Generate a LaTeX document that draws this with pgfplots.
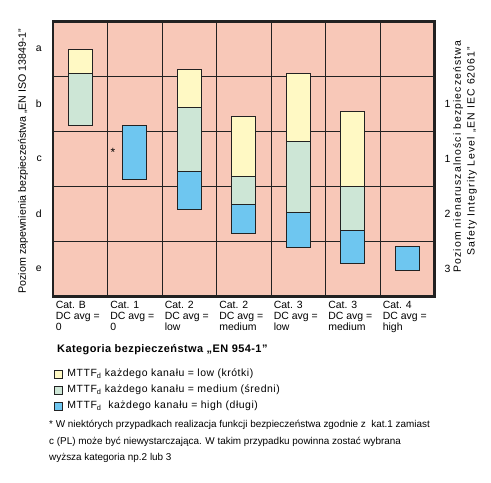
\documentclass[border=0pt]{standalone}
\usepackage{fontspec}
\setmainfont{Liberation Sans}
\newfontfamily\rls[LetterSpace=10.5]{Liberation Sans}
\newfontfamily\lls[LetterSpace=5]{Liberation Sans}
\newfontfamily\tls[LetterSpace=4]{Liberation Sans}
\usepackage{pgfplots}
\usepackage{pgfplotstable}
\pgfplotsset{compat=1.18}
\definecolor{bg}{HTML}{F8C8B8}
\definecolor{cy}{HTML}{FFF9C4}
\definecolor{cg}{HTML}{CDE6D6}
\definecolor{cb}{HTML}{6EC6F0}
\definecolor{gl}{HTML}{222222}

\pgfplotstableread{
x base blue green yellow
0 3.110 0.000 0.945 0.435
1 2.127 0.983 0.000 0.000
2 1.582 0.691 1.163 0.691
3 1.145 0.528 0.509 1.091
4 0.891 0.636 1.291 1.237
5 0.600 0.600 0.800 1.364
6 0.473 0.429 0.000 0.000
}\data

\begin{document}
\begin{tikzpicture}
\useasboundingbox (-53bp,-186.7bp) rectangle (438bp,296.3bp);
\begin{axis}[
  at={(0,0)}, anchor=south west,
  scale only axis, width=381.5bp, height=275bp,
  xmin=-0.5, xmax=6.5, ymin=0, ymax=5,
  ybar stacked, bar width=24bp,
  axis background/.style={fill=bg},
  axis line style={line width=2.6bp, draw=gl},
  xtick={0,...,6},
  xticklabels={{Cat. B\\DC avg =\\0},{Cat. 1\\DC avg =\\0},{Cat. 2\\DC avg =\\low},{Cat. 2\\DC avg =\\medium},{Cat. 3\\DC avg =\\low},{Cat. 3\\DC avg =\\medium},{Cat. 4\\DC avg =\\high}},
  xticklabel style={anchor=north west, align=left, inner sep=0pt, xshift=-24.6bp, yshift=-4.5bp, font=\fontsize{10.5}{11.2}\selectfont},
  ytick={0.5,1.5,2.5,3.5,4.5},
  yticklabels={e,d,c,b,a},
  yticklabel style={inner sep=0pt, xshift=-11bp, font=\fontsize{10.5}{12}\selectfont},
  minor xtick={0.5,1.5,...,5.5},
  minor ytick={1,2,3,4},
  xminorgrids, yminorgrids,
  minor grid style={draw=gl, line width=0.9bp},
  major tick length=0pt, minor tick length=0pt,
  clip=false,
  reverse legend,
  legend cell align=left,
  legend image code/.code={\draw[#1, draw=gl, line width=0.7bp] (0bp,-4bp) rectangle (8bp,4bp); \path (12.5bp,0bp);},
  legend style={draw=none, fill=none, at={(0,0)}, anchor=north west, xshift=1bp, yshift=-72bp, inner sep=0pt, row sep=5bp,
    nodes={inner sep=0pt, text height=8bp, text depth=3bp, font=\lls\fontsize{10.5}{12}\selectfont}},
]
\addplot[draw=none, fill=none, forget plot] table[x=x, y=base] {\data};
\addplot[fill=cb, draw=gl, line width=0.9bp] table[x=x, y=blue] {\data};
\addplot[fill=cg, draw=gl, line width=0.9bp] table[x=x, y=green] {\data};
\addplot[fill=cy, draw=gl, line width=0.9bp] table[x=x, y=yellow] {\data};
\legend{MTTF\textsubscript{d}\ \ każdego kanału = high (długi), MTTF\textsubscript{d} każdego kanału = medium (średni), MTTF\textsubscript{d} każdego kanału = low (krótki)}
\node[font=\fontsize{12}{12}\selectfont] at (axis cs:0.6,2.62) {*};
\node[font=\fontsize{10.5}{12}\selectfont, xshift=13bp] at (axis cs:6.5,3.5) {1};
\node[font=\fontsize{10.5}{12}\selectfont, xshift=13bp] at (axis cs:6.5,2.5) {1};
\node[font=\fontsize{10.5}{12}\selectfont, xshift=13bp] at (axis cs:6.5,1.5) {2};
\node[font=\fontsize{10.5}{12}\selectfont, xshift=13bp] at (axis cs:6.5,0.5) {3};
\end{axis}
\node[rotate=90, font=\fontsize{10.7}{12}\selectfont, inner sep=0pt] at (-30bp,135.3bp) {Poziom zapewnienia bezpieczeństwa „EN ISO 13849-1”};
\node[rotate=90, anchor=east, inner sep=0pt, font=\rls\fontsize{10.5}{14}\selectfont] at (405bp,255.6bp) {Poziom nienaruszalności bezpieczeństwa};
\node[rotate=90, anchor=east, inner sep=0pt, font=\rls\fontsize{10.5}{14}\selectfont] at (419bp,249.6bp) {Safety Integrity Level „EN IEC 62061”};
\node[anchor=west, inner sep=0pt, font=\tls\bfseries\fontsize{11}{12}\selectfont] at (4bp,-53.2bp) {Kategoria bezpieczeństwa „EN 954-1”};
\node[anchor=north west, align=left, inner sep=0pt, font=\fontsize{9.95}{16.5}\selectfont] at (-4bp,-124bp) {* W niektórych przypadkach realizacja funkcji bezpieczeństwa zgodnie z\ \ kat.1 zamiast\\c (PL) może być niewystarczająca. W takim przypadku powinna zostać wybrana\\wyższa kategoria np.2 lub 3};
\end{tikzpicture}
\end{document}
